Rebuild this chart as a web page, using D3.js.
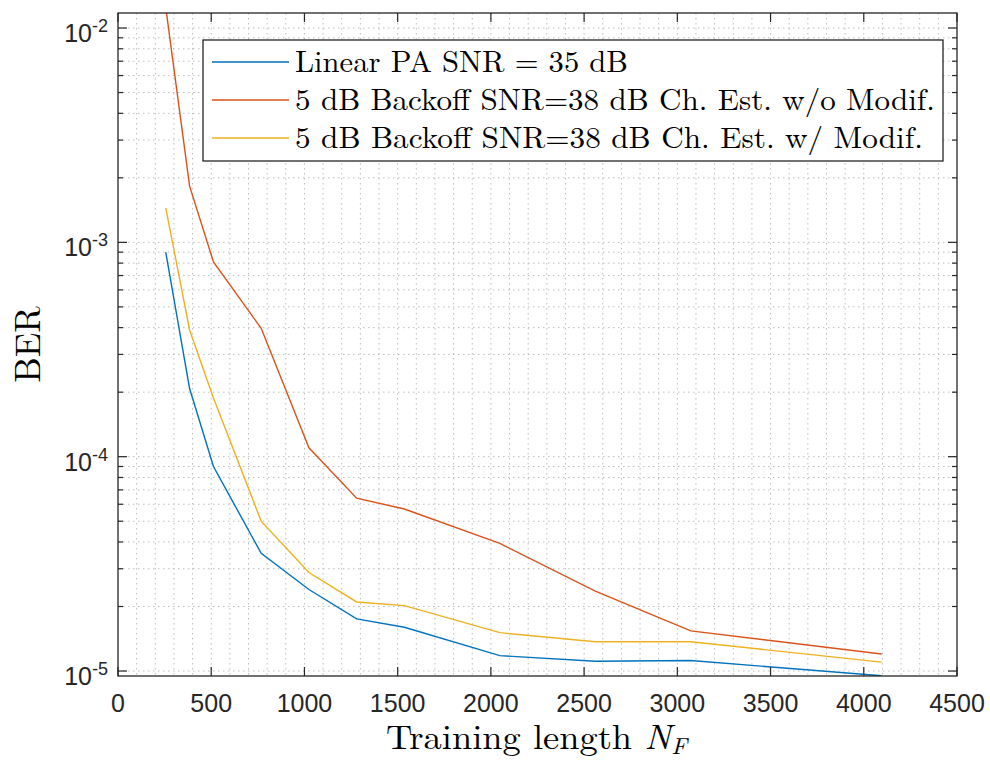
<!DOCTYPE html>
<html>
<head>
<meta charset="utf-8">
<script src="https://cdn.jsdelivr.net/npm/d3@7"></script>
<style>
  body { margin: 0; background: #fff; }
  svg { display: block; }
</style>
</head>
<body>
<svg id="chart" width="990" height="762"></svg>
<script>
// training lengths N_F
const trainLen = [256, 384, 512, 768, 1024, 1280, 1536, 2048, 2560, 3072, 4096];

// BER
const berLinear = [9.0e-4, 2.08e-4, 9.0e-5, 3.54e-5, 2.40e-5, 1.75e-5, 1.60e-5, 1.18e-5, 1.11e-5, 1.12e-5, 9.5e-6];
const berNoModif = [1.25e-2, 1.83e-3, 8.1e-4, 3.97e-4, 1.10e-4, 6.4e-5, 5.7e-5, 3.94e-5, 2.36e-5, 1.54e-5, 1.20e-5];
const berModif = [1.45e-3, 3.90e-4, 1.88e-4, 5.0e-5, 2.88e-5, 2.10e-5, 2.02e-5, 1.51e-5, 1.37e-5, 1.37e-5, 1.10e-5];

const seriesNames = [
  'Linear PA SNR = 35 dB',
  '5 dB Backoff SNR=38 dB Ch. Est. w/o Modif.',
  '5 dB Backoff SNR=38 dB Ch. Est. w/ Modif.'
];
const seriesColors = ['#0072BD', '#D95319', '#EDB120'];

const xTicks = d3.range(0, 4501, 500);
const yTicks = [1e-5, 1e-4, 1e-3, 1e-2];

const svg = d3.select('#chart');
const pLeft = 118, pRight = 957, pTop = 13, pBottom = 676;

const x = d3.scaleLinear().domain([0, 4500]).range([pLeft, pRight]);
const y = d3.scaleLog().domain([9.48e-6, 1.175e-2]).range([pBottom, pTop]);

const axisColor = '#262626';

// minor y values (2..9 x decade) inside the domain
let yMinor = [];
[1e-6, 1e-5, 1e-4, 1e-3, 1e-2].forEach(dec => {
  for (let k = 2; k <= 9; k++) {
    const v = k * dec;
    if (v > y.domain()[0] && v < y.domain()[1]) yMinor.push(v);
  }
});
const xMinor = d3.range(100, 4500, 100).filter(v => v % 500 != 0);

// grid (dotted)
const grid = svg.append('g');
grid.selectAll('.gx').data(xMinor.concat(xTicks.slice(1, -1))).enter().append('line')
  .attr('x1', d => x(d)).attr('x2', d => x(d))
  .attr('y1', pTop).attr('y2', pBottom)
  .attr('stroke', '#bdbdbd').attr('stroke-width', 1).attr('stroke-dasharray', '1.5,3.5');
grid.selectAll('.gy').data(yMinor.concat(yTicks)).enter().append('line')
  .attr('x1', pLeft).attr('x2', pRight)
  .attr('y1', d => y(d)).attr('y2', d => y(d))
  .attr('stroke', '#bdbdbd').attr('stroke-width', 1).attr('stroke-dasharray', '1.5,3.5');

// lines
svg.append('clipPath').attr('id', 'clip').append('rect')
  .attr('x', pLeft).attr('y', pTop).attr('width', pRight - pLeft).attr('height', pBottom - pTop);

const line = d3.line().x(d => x(d[0])).y(d => y(d[1]));
const allSeries = [berLinear, berNoModif, berModif];
svg.append('g').attr('clip-path', 'url(#clip)')
  .selectAll('path').data(allSeries).enter().append('path')
  .attr('d', s => line(trainLen.map((n, i) => [n, s[i]])))
  .attr('fill', 'none')
  .attr('stroke', (s, i) => seriesColors[i])
  .attr('stroke-width', 1.4);

// axes box
svg.append('rect')
  .attr('x', pLeft).attr('y', pTop).attr('width', pRight - pLeft).attr('height', pBottom - pTop)
  .attr('fill', 'none').attr('stroke', axisColor).attr('stroke-width', 1.3);

// ticks pointing inward
const ticks = svg.append('g').attr('stroke', axisColor).attr('stroke-width', 1.2);
xTicks.forEach(v => {
  ticks.append('line').attr('x1', x(v)).attr('x2', x(v)).attr('y1', pBottom).attr('y2', pBottom - 9);
  ticks.append('line').attr('x1', x(v)).attr('x2', x(v)).attr('y1', pTop).attr('y2', pTop + 9);
});
yTicks.forEach(v => {
  ticks.append('line').attr('x1', pLeft).attr('x2', pLeft + 9).attr('y1', y(v)).attr('y2', y(v));
  ticks.append('line').attr('x1', pRight).attr('x2', pRight - 9).attr('y1', y(v)).attr('y2', y(v));
});
yMinor.forEach(v => {
  ticks.append('line').attr('x1', pLeft).attr('x2', pLeft + 5).attr('y1', y(v)).attr('y2', y(v));
  ticks.append('line').attr('x1', pRight).attr('x2', pRight - 5).attr('y1', y(v)).attr('y2', y(v));
});

// tick labels
const sans = "'Liberation Sans', Arial, Helvetica, sans-serif";
svg.append('g').selectAll('text').data(xTicks).enter().append('text')
  .attr('x', d => x(d)).attr('y', pBottom + 36)
  .attr('text-anchor', 'middle')
  .attr('font-family', sans).attr('font-size', 25).attr('fill', axisColor)
  .text(d => d);

const yl = svg.append('g').selectAll('text').data(yTicks).enter().append('text')
  .attr('x', 108).attr('y', d => y(d) + 14)
  .attr('text-anchor', 'end')
  .attr('font-family', sans).attr('font-size', 25).attr('fill', axisColor);
yl.append('tspan').text('10');
yl.append('tspan').attr('dy', -10).attr('font-size', 18).text(d => Math.round(Math.log10(d)));

// axis titles (serif, LaTeX look)
const serif = "'Latin Modern Roman', 'CMU Serif', 'Liberation Serif', 'Times New Roman', serif";
const xt = svg.append('text')
  .attr('x', 386).attr('y', 749)
  .attr('font-family', serif).attr('font-size', 35).attr('fill', '#000')
  .attr('textLength', 301).attr('lengthAdjust', 'spacingAndGlyphs');
xt.append('tspan').text('Training length ');
xt.append('tspan').attr('font-style', 'italic').text('N');
xt.append('tspan').attr('font-style', 'italic').attr('font-size', 23).attr('dy', 5).text('F');

svg.append('text')
  .attr('transform', `translate(40, ${(pTop + pBottom) / 2}) rotate(-90)`)
  .attr('text-anchor', 'middle')
  .attr('font-family', serif).attr('font-size', 36).attr('fill', '#000')
  .text('BER');

// legend
const lg = svg.append('g');
lg.append('rect')
  .attr('x', 203).attr('y', 40).attr('width', 740).attr('height', 121)
  .attr('fill', '#fff').attr('stroke', axisColor).attr('stroke-width', 1.3);
const legendTextW = [333, 640, 628];
seriesNames.forEach((name, i) => {
  const cy = 62 + i * 38;
  lg.append('line').attr('x1', 212).attr('x2', 289).attr('y1', cy).attr('y2', cy)
    .attr('stroke', seriesColors[i]).attr('stroke-width', 1.4);
  lg.append('text').attr('x', 295).attr('y', cy + 10)
    .attr('font-family', serif).attr('font-size', 30).attr('fill', '#000')
    .attr('textLength', legendTextW[i]).attr('lengthAdjust', 'spacingAndGlyphs')
    .text(name);
});
</script>
</body>
</html>
